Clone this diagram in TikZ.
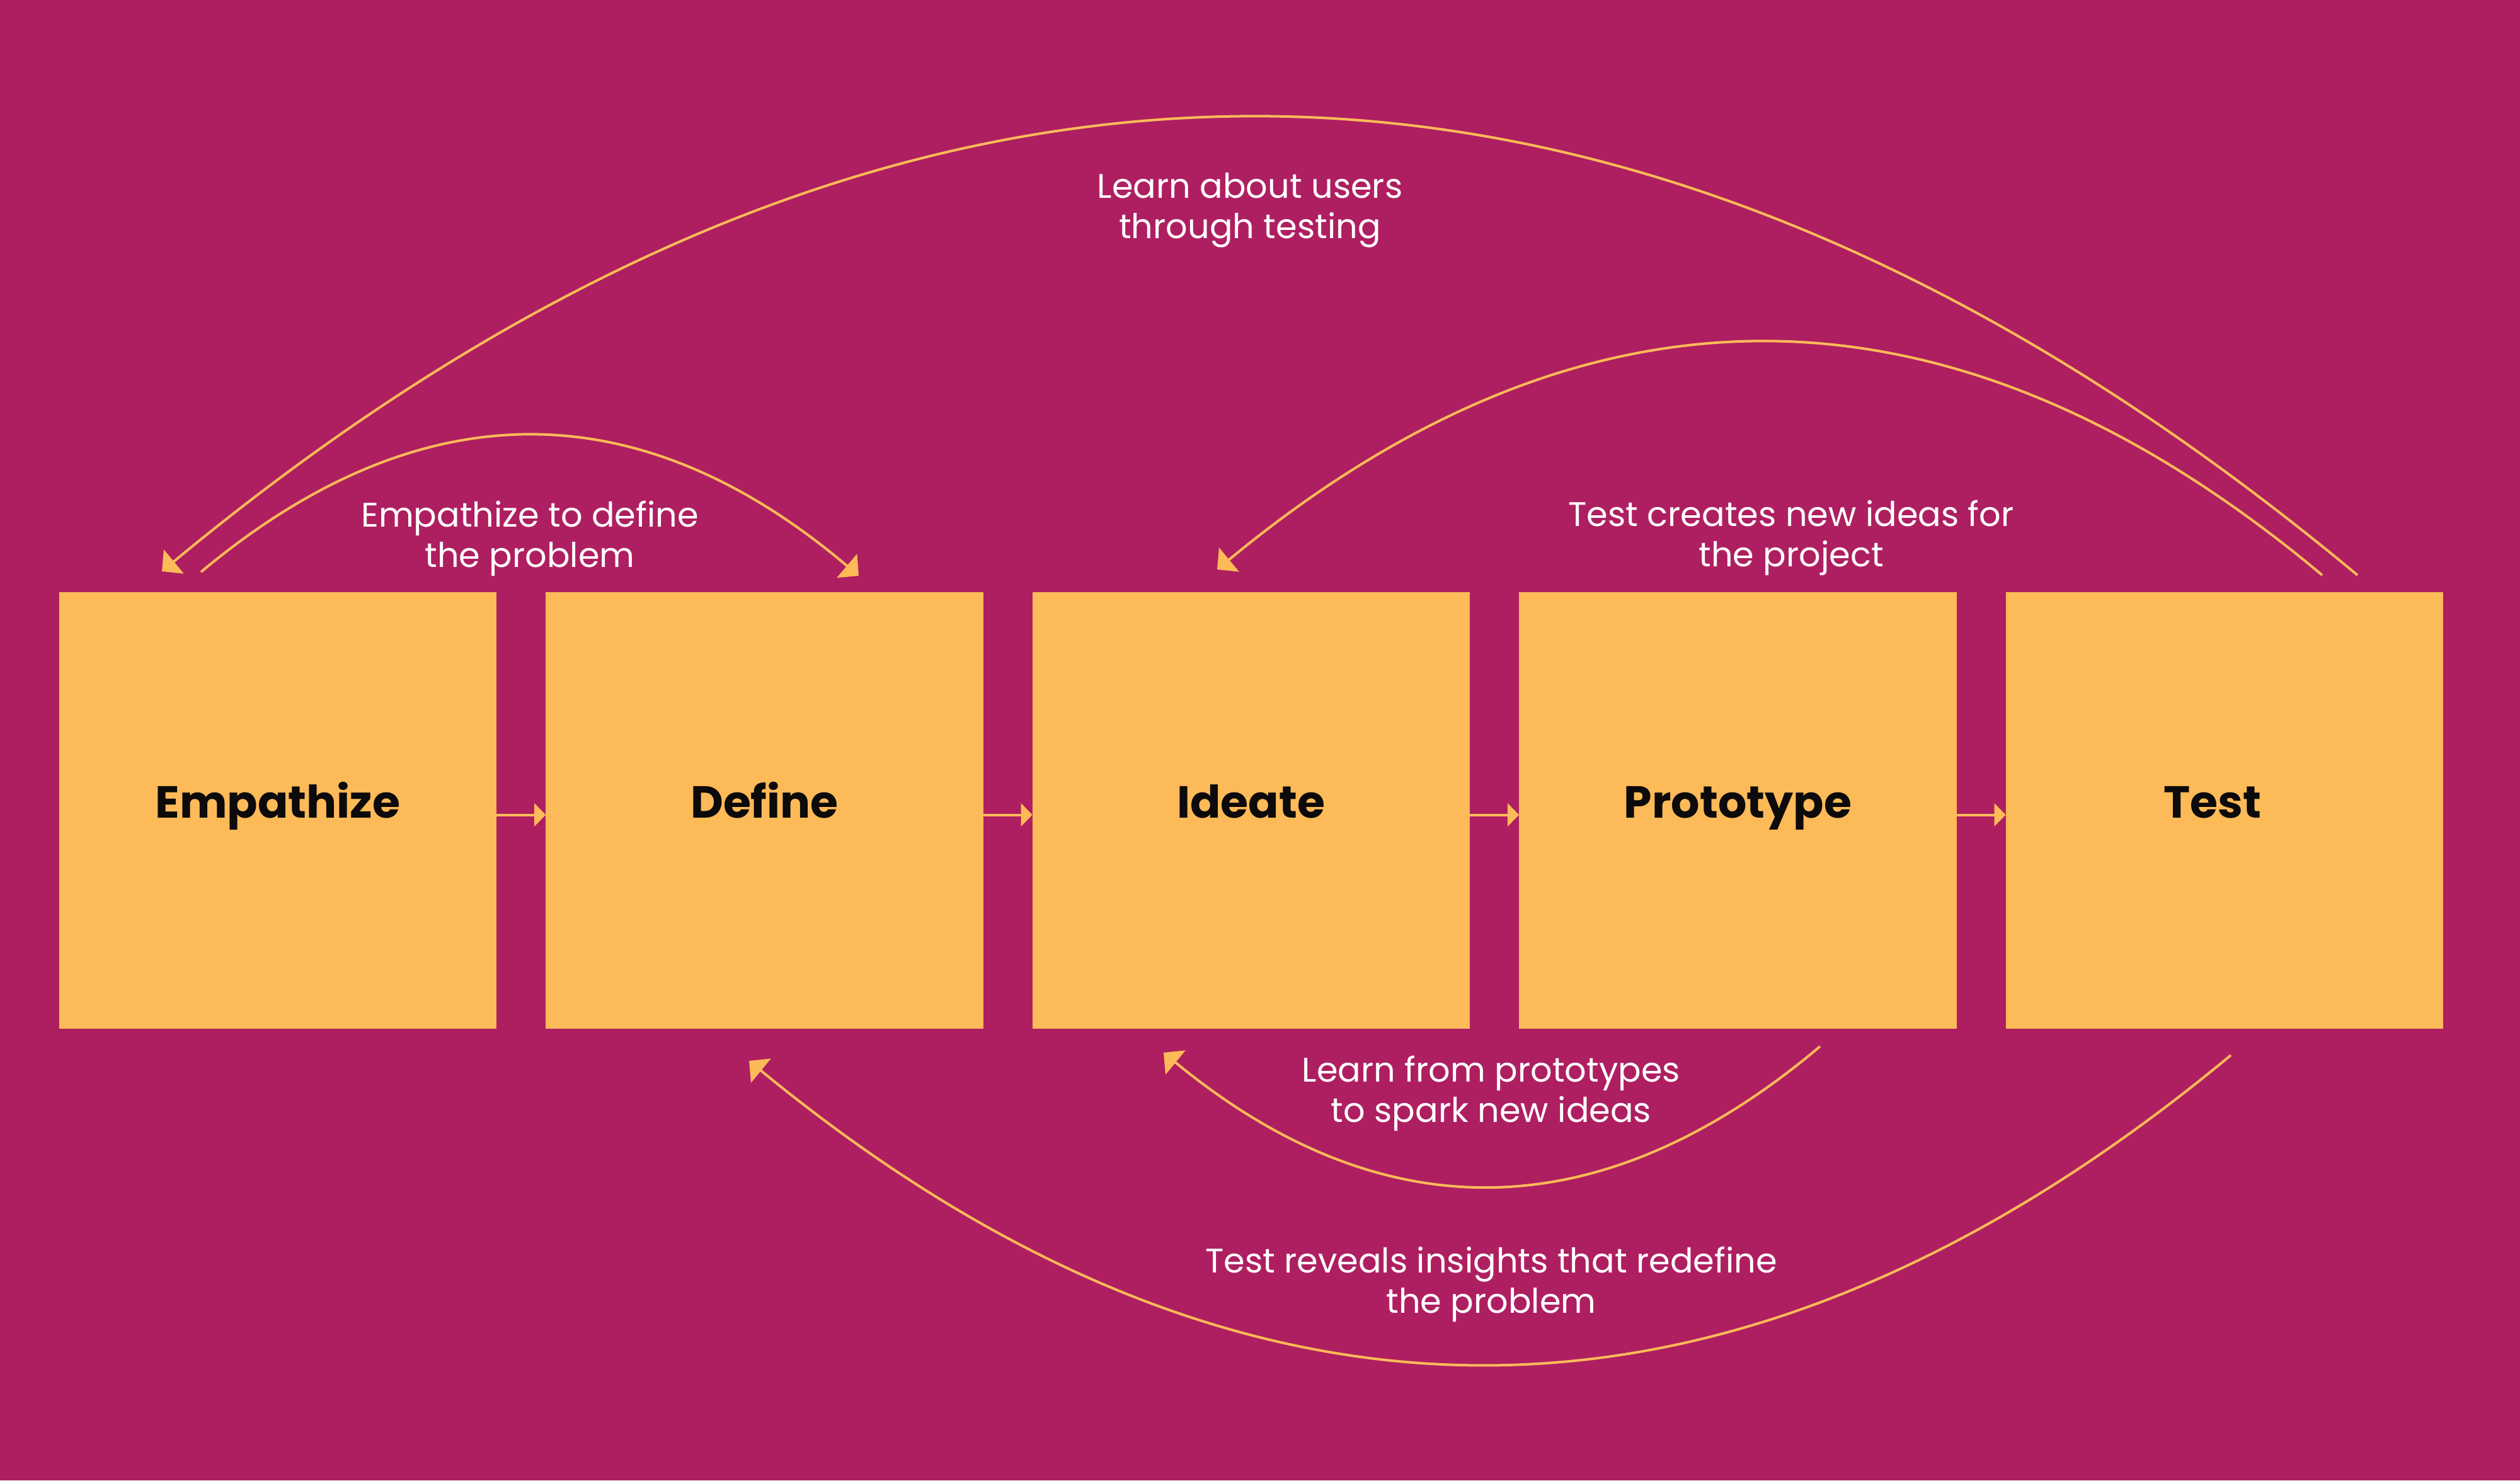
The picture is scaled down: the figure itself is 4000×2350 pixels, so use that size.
\documentclass[tikz,border=0pt]{standalone}
\usepackage{fontspec}
\setmainfont{Poppins}
\usetikzlibrary{positioning}
\usetikzlibrary{arrows.meta}
\definecolor{berry}{RGB}{174,31,97}
\definecolor{accent}{RGB}{253,186,88}
\definecolor{ink}{RGB}{12,10,10}

\begin{document}
\begin{tikzpicture}[
  x = 0.01cm, y = -0.01cm,
  stage/.style = {fill=accent, text=ink, inner sep=0pt, outer sep=0pt,
    minimum width=6.94cm, minimum height=6.93cm,
    text height=0.5cm, text depth=0.26cm,
    font=\fontsize{20.3}{24}\selectfont\bfseries},
  note/.style = {text=white, align=center, inner sep=0pt, anchor=base,
    font=\fontsize{15.4}{18.2}\selectfont},
  link/.style = {line width=0.04cm, color=accent, -{Triangle[length=0.18cm, width=0.36cm]}},
  loop/.style = {line width=0.04cm, color=accent, -{Triangle[length=0.245cm, width=0.49cm]}},
]

  \fill[berry] (0,0) rectangle (4000,2350);
  \useasboundingbox (0,0) rectangle (4000,2350);

  \node[stage] (emp) at (441,1286.5) {Empathize};
  \node[stage, right=0.78cm of emp] (def) {Define};
  \node[stage, right=0.78cm of def] (ide) {Ideate};
  \node[stage, right=0.78cm of ide] (pro) {Prototype};
  \node[stage, right=0.78cm of pro] (tst) {Test\kern0.38cm\relax};

  \foreach \a/\b in {emp/def, def/ide, ide/pro, pro/tst}
    \draw[link] ([yshift=-0.07cm]\a.east) -- ([yshift=-0.07cm]\b.west);

  % loose ends of the loops
  \coordinate (t1) at (3742,913);
  \coordinate (t2) at (3686,913);
  \coordinate (t3) at (3541,1675);
  \coordinate (e1) at (257,907);
  \coordinate (e2) at (319,908);
  \coordinate (d1) at (1363,914);
  \coordinate (d2) at (1189,1684);
  \coordinate (i1) at (1932,904);
  \coordinate (i2) at (1847,1671);
  \coordinate (p1) at (2889,1661);

  \draw[loop] (t1) .. controls (2581,-54) and (1419,-56) .. (e1);
  \draw[loop] (t2) .. controls (3101,423) and (2517,420) .. (i1);
  \draw[loop] (e2) .. controls (667,617) and (1015,619) .. (d1);
  \draw[loop] (p1) .. controls (2542,1954) and (2194,1957) .. (i2);
  \draw[loop] (t3) .. controls (2757,2326) and (1973,2329) .. (d2);

  % anchor base sits on the last line
  \node[note] (n1) at (1984,378) {Learn about users\\through testing};
  \node[note] (n2) at (841,900) {Empathize to define\\the problem};
  \node[note] (n3) at (2843,899) {Test creates new ideas for\\the project};
  \node[note] (n4) at (2367,1781) {Learn from prototypes\\to spark new ideas};
  \node[note] (n5) at (2367,2084) {Test reveals insights that redefine\\the problem};

\end{tikzpicture}
\end{document}
